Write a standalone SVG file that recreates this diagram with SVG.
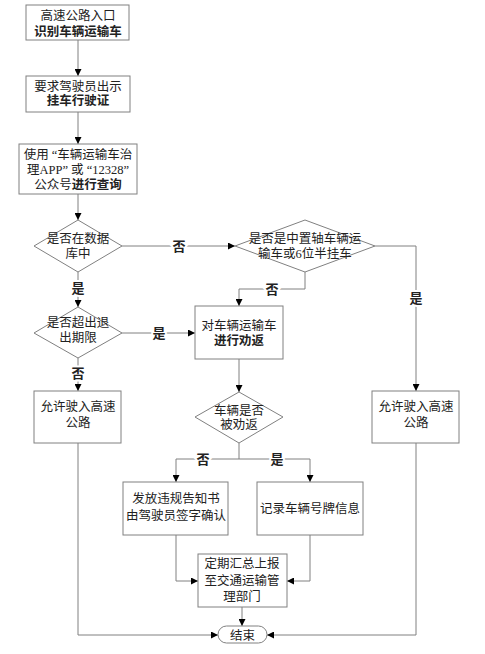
<svg xmlns="http://www.w3.org/2000/svg" width="485" height="654" viewBox="0 0 485 654">
<style>
.box{fill:#fff;stroke:#808080;stroke-width:1}
.ln{fill:none;stroke:#808080;stroke-width:1}
text{font-family:"Liberation Serif","Noto Sans CJK SC",serif;font-size:12.5px;fill:#222;text-anchor:middle}
.b{font-weight:bold}
.lbl{font-size:13px;stroke:#fff;stroke-width:4px;paint-order:stroke;font-weight:bold}
</style>
<defs>
<marker id="ar" markerWidth="7" markerHeight="7" refX="7" refY="3.5" orient="auto" markerUnits="userSpaceOnUse">
<path d="M0,0 L7,3.5 L0,7 Z" fill="#000"/>
</marker>
</defs>
<rect width="485" height="654" fill="#fff"/>
<g id="connectors">
<path class="ln" d="M78,40 V76" marker-end="url(#ar)"/>
<path class="ln" d="M78,112 V144" marker-end="url(#ar)"/>
<path class="ln" d="M78,194 V220" marker-end="url(#ar)"/>
<path class="ln" d="M122,246 H235" marker-end="url(#ar)"/>
<path class="ln" d="M78,272 V307" marker-end="url(#ar)"/>
<path class="ln" d="M122,333 H195" marker-end="url(#ar)"/>
<path class="ln" d="M78,358 V391" marker-end="url(#ar)"/>
<path class="ln" d="M375,246 H416 V391" marker-end="url(#ar)"/>
<path class="ln" d="M305,272 V289 H239 V306" marker-end="url(#ar)"/>
<path class="ln" d="M239,359 V392" marker-end="url(#ar)"/>
<path class="ln" d="M239,443 V459"/>
<path class="ln" d="M239,459 H176 V482" marker-end="url(#ar)"/>
<path class="ln" d="M239,459 H310 V482" marker-end="url(#ar)"/>
<path class="ln" d="M176,535 V581 H198" marker-end="url(#ar)"/>
<path class="ln" d="M310,535 V581 H287" marker-end="url(#ar)"/>
<path class="ln" d="M242,607 V626" marker-end="url(#ar)"/>
<path class="ln" d="M78,443 V635 H218" marker-end="url(#ar)"/>
<path class="ln" d="M416,443 V635 H267" marker-end="url(#ar)"/>
<text class="lbl" x="179" y="250.5">否</text>
<text class="lbl" x="78" y="292.5">是</text>
<text class="lbl" x="159" y="337.5">是</text>
<text class="lbl" x="78" y="377.5">否</text>
<text class="lbl" x="416" y="302.5">是</text>
<text class="lbl" x="272" y="293.5">否</text>
<text class="lbl" x="203" y="463.5">否</text>
<text class="lbl" x="277" y="463.5">是</text>
</g>
<g id="n1">
<rect class="box" x="26" y="5" width="103" height="35"/>
<text x="78" y="19.5">高速公路入口</text>
<text x="78" y="35.5" class="b">识别车辆运输车</text>
</g>
<g id="n2">
<rect class="box" x="26" y="76" width="104" height="36"/>
<text x="78" y="90.5">要求驾驶员出示</text>
<text x="78" y="105" class="b">挂车行驶证</text>
</g>
<g id="n3">
<rect class="box" x="19" y="144" width="118" height="50"/>
<text x="78" y="159">使用 “车辆运输车治</text>
<text x="78" y="173.5">理APP” 或 “12328”</text>
<text x="78" y="188.5">公众号<tspan class="b">进行查询</tspan></text>
</g>
<g id="d1">
<polygon class="box" points="78,220 122,246 78,272 34,246"/>
<text x="78" y="242.5">是否在数据</text>
<text x="78" y="257.5">库中</text>
</g>
<g id="d2">
<polygon class="box" points="78,307 122,333 78,358 34,333"/>
<text x="78" y="326.5">是否超出退</text>
<text x="78" y="341.5">出期限</text>
</g>
<g id="d3">
<polygon class="box" points="305,220 375,246 305,272 235,246"/>
<text x="305" y="242.5">是否是中置轴车辆运</text>
<text x="305" y="257.5">输车或6位半挂车</text>
</g>
<g id="n4">
<rect class="box" x="195" y="306" width="88" height="53"/>
<text x="239" y="329.5">对车辆运输车</text>
<text x="239" y="344.5" class="b">进行劝返</text>
</g>
<g id="n5">
<rect class="box" x="34" y="391" width="87" height="52"/>
<text x="78" y="410.5">允许驶入高速</text>
<text x="78" y="426.5">公路</text>
</g>
<g id="n6">
<rect class="box" x="372" y="391" width="87" height="52"/>
<text x="416" y="410.5">允许驶入高速</text>
<text x="416" y="426.5">公路</text>
</g>
<g id="d4">
<polygon class="box" points="239,392 283,417 239,443 195,417"/>
<text x="239" y="414.5">车辆是否</text>
<text x="239" y="428.5">被劝返</text>
</g>
<g id="n7">
<rect class="box" x="123" y="482" width="105" height="53"/>
<text x="176" y="502.5">发放违规告知书</text>
<text x="176" y="519.5">由驾驶员签字确认</text>
</g>
<g id="n8">
<rect class="box" x="257" y="482" width="106" height="53"/>
<text x="310" y="512.5">记录车辆号牌信息</text>
</g>
<g id="n9">
<rect class="box" x="198" y="554" width="89" height="53"/>
<text x="242" y="567.5">定期汇总上报</text>
<text x="242" y="584.5">至交通运输管</text>
<text x="242" y="600.5">理部门</text>
</g>
<g id="end">
<rect class="box" x="218" y="626" width="49" height="17" rx="8.5"/>
<text x="242.5" y="639.5">结束</text>
</g>
</svg>
